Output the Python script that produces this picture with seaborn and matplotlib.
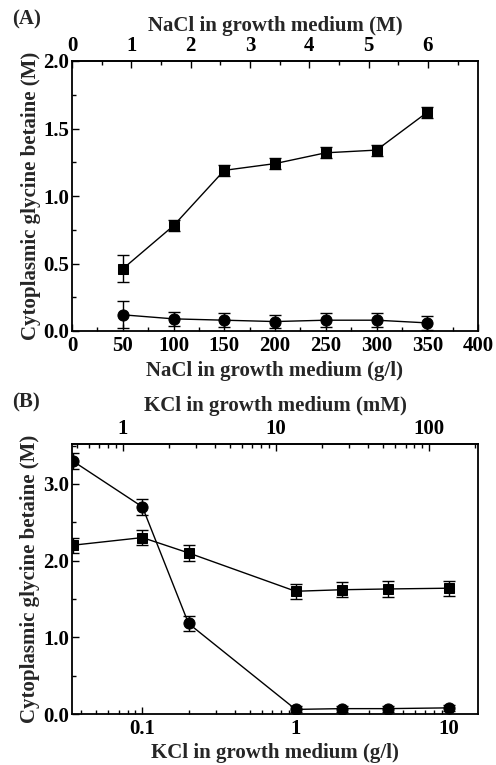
import numpy as np
import pandas as pd
import matplotlib
matplotlib.use("Agg")
import matplotlib.pyplot as plt
import seaborn as sns
from matplotlib.ticker import MultipleLocator, LogLocator, FixedLocator, NullFormatter, FuncFormatter

# ---- data (panel A) ----
nacl_gl = [50, 100, 150, 200, 250, 300, 350]
a_square = [0.46, 0.78, 1.19, 1.24, 1.32, 1.34, 1.62]
a_square_err = [0.10, 0.04, 0.04, 0.04, 0.04, 0.04, 0.04]
a_circle = [0.12, 0.09, 0.08, 0.07, 0.08, 0.08, 0.06]
a_circle_err = [0.10, 0.05, 0.05, 0.05, 0.05, 0.05, 0.05]

# ---- data (panel B) ----
kcl_gl = [0.035, 0.1, 0.2, 1, 2, 4, 10]
b_circle = [3.30, 2.70, 1.18, 0.06, 0.07, 0.07, 0.08]
b_circle_err = [0.10, 0.10, 0.10, 0.04, 0.04, 0.04, 0.04]
b_square = [2.20, 2.30, 2.10, 1.60, 1.62, 1.63, 1.64]
b_square_err = [0.10, 0.10, 0.10, 0.10, 0.10, 0.10, 0.10]

NACL_MW = 58.44
KCL_MW = 74.55

sns.set_theme(style="ticks")
plt.rcParams['font.family'] = ['Liberation Serif', 'DejaVu Serif']
plt.rcParams['font.weight'] = 'bold'
plt.rcParams['axes.labelweight'] = 'bold'

FS = 15
fig = plt.figure(figsize=(4.96, 7.65), dpi=100)
axA = fig.add_axes([72/496, 1-331/765, 406/496, 270/765])
axB = fig.add_axes([72/496, 1-714/765, 406/496, 270/765])

def draw_series(ax, x, y, err, marker, ms):
    df = pd.DataFrame({'x': x, 'y': y})
    ax.errorbar(x, y, yerr=err, fmt='none', ecolor='black', elinewidth=1.0,
                capsize=4, capthick=1.0, zorder=2)
    sns.lineplot(data=df, x='x', y='y', ax=ax, color='black', linewidth=1.0,
                 marker=marker, markersize=ms, markeredgecolor='black',
                 markerfacecolor='black', zorder=3)

def style_axis(ax):
    for s in ['left', 'bottom', 'top', 'right']:
        ax.spines[s].set_linewidth(1.3)
        ax.spines[s].set_color('black')
    ax.tick_params(axis='both', which='both', direction='in', colors='black',
                   labelsize=FS, top=False, right=False)
    ax.tick_params(which='major', length=5, width=1)
    ax.tick_params(which='minor', length=3, width=1)
    ax.tick_params(axis='y', pad=2)
    for t in ax.get_xticklabels() + ax.get_yticklabels():
        t.set_fontweight('bold')
    ax.set_ylabel('Cytoplasmic glycine betaine (M)', fontsize=FS, fontweight='bold', labelpad=2)

# ---- Panel A ----
draw_series(axA, nacl_gl, a_square, a_square_err, 's', 7.5)
draw_series(axA, nacl_gl, a_circle, a_circle_err, 'o', 8)
axA.set_xlim(0, 400)
axA.set_ylim(0, 2.0)
axA.xaxis.set_major_locator(MultipleLocator(50))
axA.xaxis.set_minor_locator(MultipleLocator(25))
axA.yaxis.set_major_locator(MultipleLocator(0.5))
axA.yaxis.set_minor_locator(MultipleLocator(0.25))
axA.yaxis.set_major_formatter(FuncFormatter(lambda v, p: f"{v:.1f}"))
axA.set_xlabel('NaCl in growth medium (g/l)', fontsize=FS, fontweight='bold', labelpad=4)
style_axis(axA)
secA = axA.secondary_xaxis('top', functions=(lambda g: g / NACL_MW, lambda m: m * NACL_MW))
secA.xaxis.set_major_locator(MultipleLocator(1))
secA.xaxis.set_minor_locator(MultipleLocator(0.5))
secA.tick_params(axis='x', which='both', direction='in', labelsize=FS, colors='black')
secA.tick_params(which='major', length=5, width=1)
secA.tick_params(which='minor', length=3, width=1)
secA.set_xlabel('NaCl in growth medium (M)', fontsize=FS, fontweight='bold', labelpad=4)
for t in secA.get_xticklabels():
    t.set_fontweight('bold')
fig.text(12/496, 1-19/765, '(A)', fontsize=FS, fontweight='bold', va='center', ha='left')

# ---- Panel B ----
draw_series(axB, kcl_gl, b_square, b_square_err, 's', 7.5)
draw_series(axB, kcl_gl, b_circle, b_circle_err, 'o', 8)
axB.set_xscale('log')
axB.set_xlim(0.0347, 15.5)
axB.set_ylim(0, 3.52)
axB.xaxis.set_major_locator(FixedLocator([0.1, 1, 10]))
axB.xaxis.set_major_formatter(FuncFormatter(lambda v, p: f"{v:g}"))
axB.xaxis.set_minor_locator(LogLocator(base=10, subs=np.arange(2, 10)))
axB.xaxis.set_minor_formatter(NullFormatter())
axB.yaxis.set_major_locator(MultipleLocator(1.0))
axB.yaxis.set_minor_locator(MultipleLocator(0.5))
axB.yaxis.set_major_formatter(FuncFormatter(lambda v, p: f"{v:.1f}"))
axB.set_xlabel('KCl in growth medium (g/l)', fontsize=FS, fontweight='bold', labelpad=3)
style_axis(axB)
secB = axB.secondary_xaxis('top', functions=(lambda g: g / KCL_MW * 1000, lambda m: m * KCL_MW / 1000))
secB.set_xscale('log')
secB.xaxis.set_major_locator(FixedLocator([1, 10, 100]))
secB.xaxis.set_major_formatter(FuncFormatter(lambda v, p: f"{v:g}"))
secB.xaxis.set_minor_locator(LogLocator(base=10, subs=np.arange(2, 10)))
secB.xaxis.set_minor_formatter(NullFormatter())
secB.tick_params(axis='x', which='both', direction='in', labelsize=FS, colors='black')
secB.tick_params(which='major', length=5, width=1)
secB.tick_params(which='minor', length=3, width=1)
secB.set_xlabel('KCl in growth medium (mM)', fontsize=FS, fontweight='bold', labelpad=6)
for t in secB.get_xticklabels():
    t.set_fontweight('bold')
fig.text(12/496, 1-402/765, '(B)', fontsize=FS, fontweight='bold', va='center', ha='left')

fig.savefig('out.png', dpi=100, facecolor='white')
